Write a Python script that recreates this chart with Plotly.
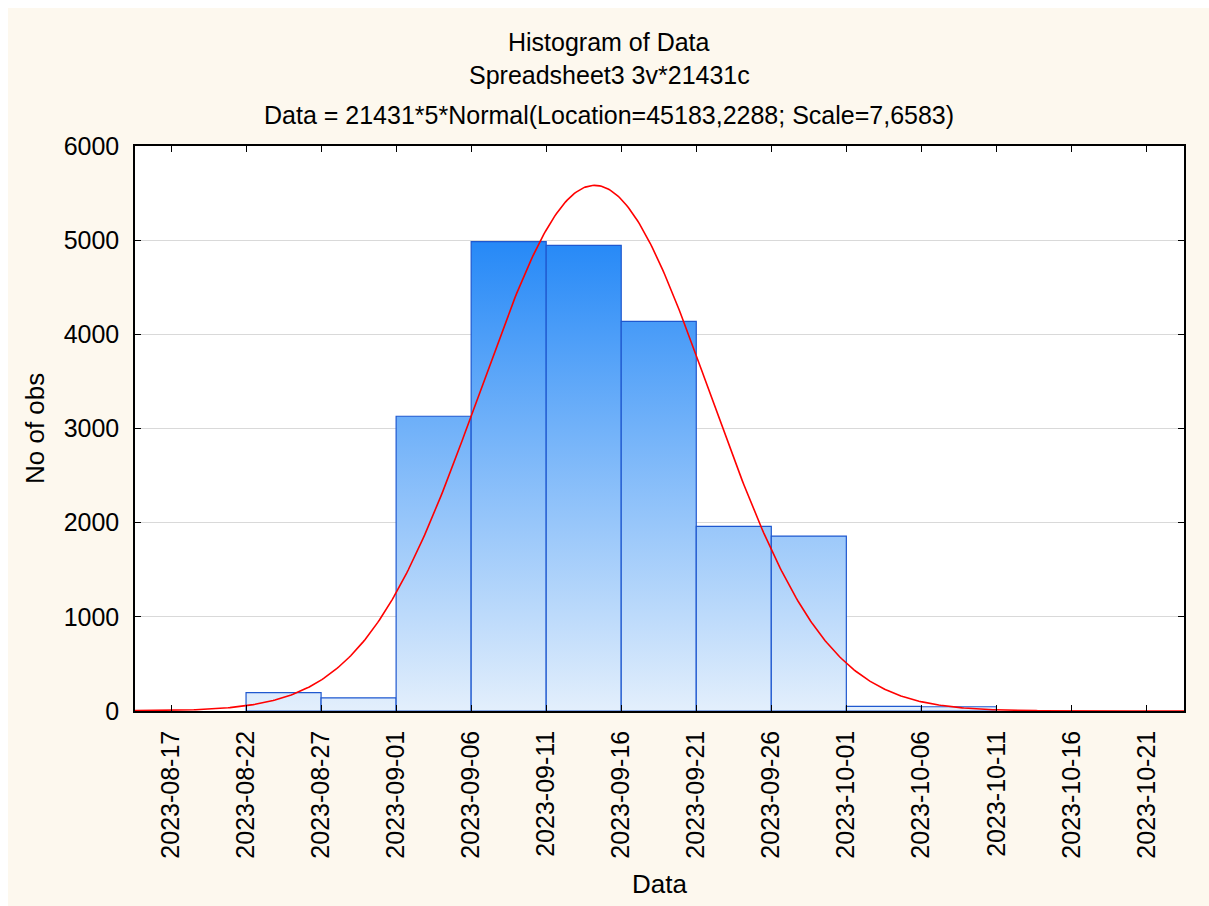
import numpy as np
import pandas as pd
import plotly.graph_objects as go

# ---- data ----
bin_starts = ["2023-08-22", "2023-08-27", "2023-09-01", "2023-09-06", "2023-09-11",
              "2023-09-16", "2023-09-21", "2023-09-26", "2023-10-01", "2023-10-06"]
counts = [195, 140, 3130, 4985, 4945, 4138, 1960, 1858, 50, 45]
bin_width_days = 5
tick_dates = ["2023-08-17", "2023-08-22", "2023-08-27", "2023-09-01", "2023-09-06",
              "2023-09-11", "2023-09-16", "2023-09-21", "2023-09-26", "2023-10-01",
              "2023-10-06", "2023-10-11", "2023-10-16", "2023-10-21"]
n_obs = 21431
loc_serial = 45183.2288
scale_days = 7.6583

title_lines = ["Histogram of Data", "Spreadsheet3 3v*21431c",
               "Data = 21431*5*Normal(Location=45183,2288; Scale=7,6583)"]

FONT = "Liberation Sans, Arial, sans-serif"
x_range = [pd.Timestamp("2023-08-14 14:24"), pd.Timestamp("2023-10-23 12:00")]

fig = go.Figure()

# bars as filled polygons with a global vertical gradient
ymax_grad = max(counts)
for s, c in zip(bin_starts, counts):
    x0 = pd.Timestamp(s)
    x1 = x0 + pd.Timedelta(days=bin_width_days)
    fig.add_trace(go.Scatter(
        x=[x0, x0, x1, x1, x0], y=[0, c, c, 0, 0],
        mode="lines", fill="toself",
        line=dict(color="#1f58cf", width=1.2),
        fillgradient=dict(type="vertical",
                          colorscale=[[0, "#e3effc"], [1, "#2689f7"]],
                          start=0, stop=ymax_grad),
        hoverinfo="skip", showlegend=False))

# fitted normal curve
origin = pd.Timestamp("1899-12-30")
mu = origin + pd.Timedelta(days=loc_serial)
t_days = np.linspace(-32, 40, 600)
pdf = np.exp(-0.5 * (t_days / scale_days) ** 2) / (scale_days * np.sqrt(2 * np.pi))
curve_y = n_obs * bin_width_days * pdf
curve_x = [mu + pd.Timedelta(days=float(d)) for d in t_days]
fig.add_trace(go.Scatter(x=curve_x, y=curve_y, mode="lines",
                         line=dict(color="#ff0000", width=1.6),
                         hoverinfo="skip", showlegend=False))

OFF = 8  # page body margin (top/left)
L, R, T, B = 135 - OFF, 25, 146 - OFF, 195
W, H = 1209 - OFF, 906 - OFF
pw, ph = W - L - R, H - T - B

def px_x(p):
    return (p - OFF - L) / pw

def px_y(p):
    return (H - B - (p - OFF)) / ph

annotations = []
for txt, py in zip(title_lines, [42, 75, 115]):
    annotations.append(dict(text=txt, xref="paper", yref="paper", x=px_x(609), y=px_y(py),
                            xanchor="center", yanchor="middle", showarrow=False,
                            font=dict(family=FONT, size=25, color="black")))
annotations.append(dict(text="Data", xref="paper", yref="paper", x=px_x(659), y=px_y(884),
                        xanchor="center", yanchor="middle", showarrow=False,
                        font=dict(family=FONT, size=26, color="black")))
annotations.append(dict(text="No of obs", xref="paper", yref="paper", x=px_x(35), y=px_y(429),
                        xanchor="center", yanchor="middle", showarrow=False, textangle=-90,
                        font=dict(family=FONT, size=26, color="black")))

fig.update_layout(
    width=W, height=H,
    margin=dict(l=L, r=R, t=T, b=B),
    paper_bgcolor="#fdf8ee", plot_bgcolor="white",
    annotations=annotations,
    font=dict(family=FONT, color="black"),
)
fig.update_xaxes(
    type="date", range=x_range,
    tickvals=[pd.Timestamp(d) for d in tick_dates], ticktext=tick_dates,
    tickangle=-90, tickfont=dict(family=FONT, size=25, color="black"),
    ticks="inside", ticklen=6, tickcolor="black", tickwidth=1,
    showline=True, linecolor="black", linewidth=1.5, mirror="ticks",
    showgrid=False, zeroline=False, ticklabelstandoff=8,
)
fig.update_yaxes(
    range=[0, 6000], tickvals=[0, 1000, 2000, 3000, 4000, 5000, 6000],
    tickfont=dict(family=FONT, size=25, color="black"),
    ticks="inside", ticklen=6, tickcolor="black", tickwidth=1,
    showline=True, linecolor="black", linewidth=1.5, mirror="ticks",
    showgrid=True, gridcolor="#d9d9d9", gridwidth=1.2, zeroline=False,
    ticklabelstandoff=9,
)

post = ("document.body.style.margin='8px 0 0 8px';"
        "document.documentElement.style.overflow='hidden';"
        "document.body.style.overflow='hidden';")
fig.write_html("out.html", post_script=post)
